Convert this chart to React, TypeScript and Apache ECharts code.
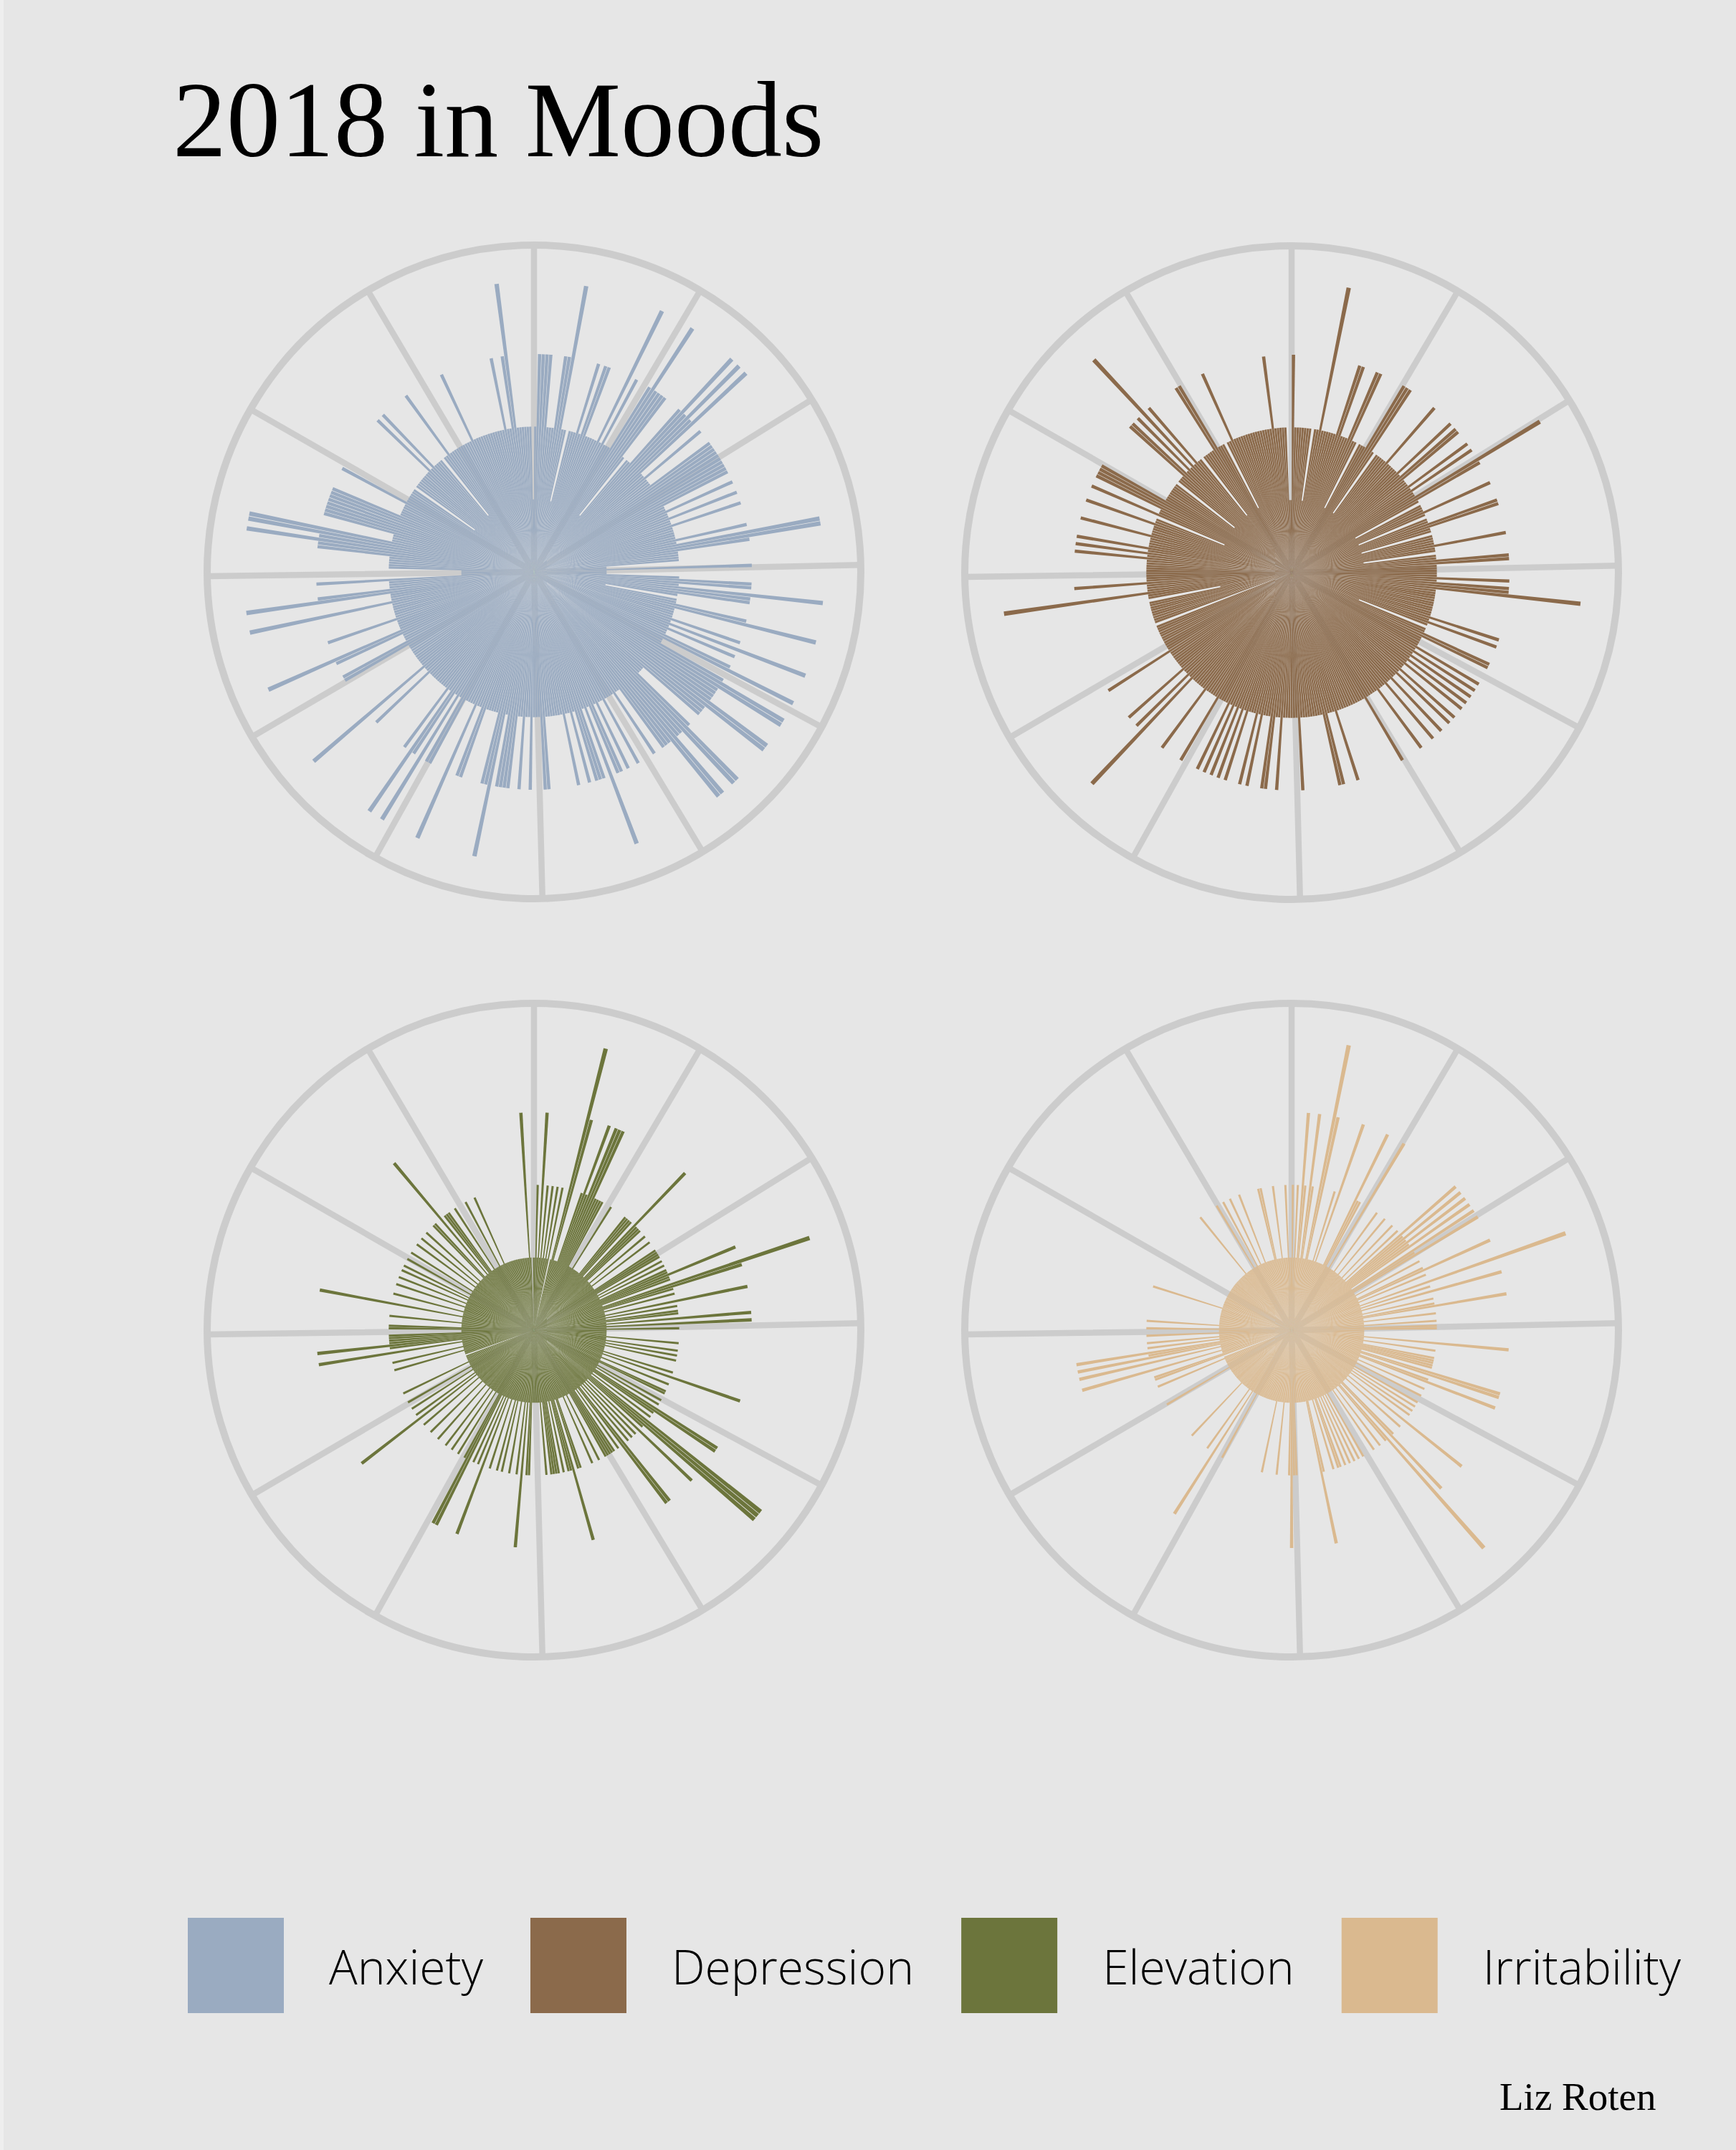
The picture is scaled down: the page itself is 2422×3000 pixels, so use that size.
import React, { useEffect, useRef } from "react";
import * as echarts from "echarts";

// ---- data (daily mood level 0-4, 2018, by month) ----
const anxietyByMonth = [
  [2,3,3,3,3,2,2,2,3,3,4,2,2,1,2,2,2,3,2,3,3,2,2,2,2,2,4,2,3,2,2],
  [2,3,4,3,3,3,3,2,1,2,2,3,4,3,4,3,4,2,2,3,2,2,2,3,3,3,3,3],
  [3,3,3,3,3,2,2,3,2,2,3,2,2,3,2,2,2,2,2,3,2,4,4,3,2,2,2,2,1,1,3],
  [1,1,1,2,3,3,2,4,3,3,2,1,2,2,3,4,2,2,2,2,3,2,4,2,3,2,2,3,4,2],
  [2,3,4,4,3,3,3,3,4,4,3,3,3,2,2,2,3,4,4,3,3,4,4,3,3,3,2,2,3,2,2],
  [2,2,3,2,2,3,2,3,3,2,4,2,3,3,3,2,3,2,2,3,2,2,2,2,2,2,2,3,3,2],
  [2,2,3,2,2,3,2,2,3,3,3,3,2,4,3,3,2,2,2,2,2,3,3,2,2,4,2,2,2,2,3],
  [3,2,4,2,3,4,2,3,2,2,2,2,2,2,2,2,2,3,2,2,4,2,2,2,2,2,2,2,2,2,2],
  [3,3,2,2,2,3,4,2,2,2,2,3,2,2,2,2,2,2,4,2,2,2,4,3,2,2,2,3,1,1],
  [1,1,2,2,2,2,2,3,3,4,3,4,4,2,2,2,3,3,3,3,3,3,3,3,2,2,2,2,2,3,2],
  [2,2,2,2,2,1,2,2,2,2,2,2,2,2,3,2,3,2,2,2,2,1,2,2,3,2,2,2,2,2],
  [2,2,2,2,2,3,2,2,2,2,2,2,2,2,2,2,2,2,2,3,2,2,3,4,2,2,2,2,2,2,1],
];
const depressionByMonth = [
  [3,2,2,2,2,2,2,2,1,2,2,4,2,2,2,2,2,2,3,3,2,2,2,3,3,2,2,1,2,2,2],
  [3,3,3,2,1,2,2,2,2,2,3,2,2,2,2,2,3,2,3,3,2,2,2,3,2,3,2,2],
  [4,3,2,1,2,2,2,3,2,1,2,2,3,3,2,2,1,2,2,2,2,3,2,2,1,2,2,3,3,2,2],
  [2,2,2,3,2,3,3,4,2,2,2,2,2,2,2,2,2,2,2,3,2,3,2,1,2,2,3,3,2,2],
  [2,2,3,2,3,2,3,2,3,2,3,2,2,3,2,3,2,2,3,2,2,3,2,2,2,3,2,2,2,2,2],
  [3,2,2,2,2,2,2,2,2,2,2,2,2,3,2,2,2,3,3,2,2,2,2,2,2,2,2,2,3,2],
  [2,2,2,2,2,3,2,2,3,3,2,2,2,3,2,3,2,2,2,3,2,3,2,3,2,3,2,3,2,2,2],
  [2,3,2,2,2,2,2,3,2,2,2,2,2,2,4,2,3,2,2,3,2,2,2,2,2,2,2,2,3,2,2],
  [2,2,2,2,2,2,2,2,2,0,2,2,2,2,2,2,2,2,2,1,2,2,4,2,2,2,3,2,2,2],
  [2,2,2,2,2,2,3,2,3,2,3,2,2,2,2,3,2,2,2,2,3,2,2,1,3,2,2,3,3,3,3],
  [2,2,2,2,2,2,2,2,1,2,2,2,3,3,2,3,2,4,2,3,2,2,1,2,2,2,2,2,3,3],
  [2,2,2,1,2,2,3,2,2,2,2,2,2,2,2,2,2,2,2,2,2,2,2,3,2,2,2,2,2,1,1],
];
const elevationByMonth = [
  [1,2,1,3,1,2,1,2,1,2,1,2,0,1,4,3,1,1,1,2,3,2,3,3,3,2,2,2,2,1,1],
  [1,2,1,1,1,1,1,1,2,2,2,2,1,3,2,2,2,1,1,2,1,1,2,1,1,1,2,2],
  [2,2,1,2,1,2,1,2,2,3,2,2,1,4,3,2,1,2,1,1,3,1,2,1,2,2,1,3,1,3,1],
  [2,1,1,1,1,1,2,1,1,2,1,2,1,2,1,1,1,1,2,1,3,1,1,2,1,1,2,2,1,1],
  [2,1,2,1,3,3,2,1,2,1,4,4,4,2,1,3,1,2,1,2,1,2,1,3,3,1,2,1,2,2,2],
  [2,2,1,1,2,1,1,2,1,1,1,1,2,2,1,3,2,2,1,2,1,2,2,2,2,1,2,1,1,1],
  [1,1,1,2,2,1,3,1,2,1,1,2,1,1,2,1,2,1,1,2,1,1,3,1,2,1,2,1,3,3,2],
  [1,1,2,1,1,2,1,1,2,1,1,1,2,1,1,1,2,1,1,1,2,1,1,3,1,2,1,1,2,1,1],
  [2,1,1,1,2,1,1,1,1,1,0,1,1,1,2,1,1,2,1,1,1,3,1,2,3,2,2,2,2,1],
  [1,2,2,1,1,1,2,1,1,1,1,3,1,1,1,2,1,1,1,2,1,1,2,1,1,2,1,2,1,1,2],
  [1,1,2,1,1,1,2,1,1,2,1,1,2,1,1,1,2,2,1,1,3,1,2,2,2,1,1,2,1,1],
  [1,1,2,1,1,1,2,1,1,1,1,1,1,1,1,1,1,1,1,1,1,1,1,1,1,1,1,3,1,0,1],
];
const irritabilityByMonth = [
  [2,1,2,1,3,2,1,3,2,1,1,4,3,1,1,1,1,2,1,3,1,1,1,1,1,1,3,2,2,1,1],
  [3,1,1,1,1,2,1,1,1,2,1,1,1,2,1,1,2,1,3,2,3,2,3,2,3,1,3,2],
  [3,1,1,2,1,1,2,3,1,2,1,1,4,1,2,1,3,1,1,2,1,2,3,1,1,2,1,1,2,1,2],
  [2,1,1,1,1,1,3,1,1,2,1,1,2,2,2,2,2,1,3,3,1,2,3,1,1,2,1,1,2,1],
  [1,2,1,2,1,2,1,2,1,1,3,1,1,2,1,1,1,2,3,1,4,2,1,1,2,1,1,2,1,1,1],
  [1,2,1,2,1,2,1,2,1,2,1,2,2,1,2,1,1,1,2,3,1,1,1,1,1,1,1,1,1,2],
  [2,3,2,1,1,1,1,2,1,1,1,1,1,2,1,1,1,1,1,1,1,1,1,1,1,1,1,1,1,1,2],
  [1,1,1,3,1,1,2,1,1,1,1,1,1,1,2,1,1,1,1,1,1,1,1,1,1,1,1,1,1,1,2],
  [1,1,1,1,1,1,1,2,1,0,2,2,1,1,3,1,1,3,1,3,2,3,1,2,1,2,1,1,2,1],
  [1,2,1,1,2,1,1,1,1,1,1,1,1,1,1,1,1,1,2,1,1,1,1,1,1,1,1,1,1,1,1],
  [1,1,1,1,1,1,1,1,1,1,1,1,1,1,1,1,1,1,1,1,1,2,1,1,1,1,1,1,1,2],
  [1,1,2,1,1,2,1,1,1,2,1,1,1,1,1,1,1,2,2,1,1,1,1,2,1,1,1,1,2,1,1],
];

const moodNames = ["Anxiety", "Depression", "Elevation", "Irritability"];
const moodColors = ["#9aabc1", "#8b6a4b", "#6c753c", "#dab98f"];
const moodData = [anxietyByMonth, depressionByMonth, elevationByMonth, irritabilityByMonth].map(
  (m) => m.flat()
);
const monthStarts = [0, 31, 59, 90, 120, 151, 181, 212, 243, 273, 304, 334];
const dayLabels: string[] = [];
{
  const monthLens = [31, 28, 31, 30, 31, 30, 31, 31, 30, 31, 30, 31];
  monthLens.forEach((len, mi) => {
    for (let d = 1; d <= len; d++) dayLabels.push(`2018-${String(mi + 1).padStart(2, "0")}-${String(d).padStart(2, "0")}`);
  });
}
const polarCenters = [
  [745, 798],
  [1802, 799],
  [745, 1856],
  [1802, 1856],
];

const W = 2422;
const H = 3000;

export default function App() {
  const ref = useRef<HTMLDivElement>(null);
  useEffect(() => {
    document.body.style.margin = "0";
    if (!ref.current) return;
    const chart = echarts.init(ref.current, null, { renderer: "svg", width: W, height: H });
    const startSet = new Set(monthStarts);
    const monthTick = (idx: number) => startSet.has(idx);
    const option: any = {
      animation: false,
      backgroundColor: "#e6e6e6",
      polar: polarCenters.map((c) => ({ center: c, radius: [0, 456] })),
      angleAxis: polarCenters.map((_, i) => ({
        polarIndex: i,
        type: "category",
        data: dayLabels,
        startAngle: 90,
        clockwise: true,
        boundaryGap: true,
        axisLine: { show: true, lineStyle: { color: "#cccccc", width: 10 } },
        axisTick: { show: false, interval: monthTick },
        axisLabel: { show: false, interval: monthTick },
        splitLine: {
          show: true,
          interval: monthTick,
          lineStyle: { color: "#cccccc", width: 8.5 },
        },
      })),
      radiusAxis: polarCenters.map((_, i) => ({
        polarIndex: i,
        type: "value",
        min: 0,
        max: 4.5,
        axisLine: { show: false },
        axisTick: { show: false },
        axisLabel: { show: false },
        splitLine: { show: false },
      })),
      legend: {
        data: moodNames,
        left: 262,
        top: 2676,
        padding: 0,
        orient: "horizontal",
        icon: "rect",
        itemWidth: 134,
        itemHeight: 133,
        itemGap: 66,
        selectedMode: false,
        textStyle: {
          fontFamily: "Open Sans",
          fontWeight: 300,
          fontSize: 66,
          color: "#000000",
          padding: [0, 0, 0, 58],
        },
      },
      series: moodNames.map((name, i) => ({
        name,
        type: "bar",
        coordinateSystem: "polar",
        polarIndex: i,
        data: moodData[i],
        barCategoryGap: "12%",
        itemStyle: { color: moodColors[i] },
        emphasis: { disabled: true },
        silent: true,
      })),
      graphic: [
        { type: "rect", shape: { x: 0, y: 0, width: 5, height: H }, style: { fill: "#eeeeee" }, silent: true },
        {
          type: "text",
          x: 241,
          y: 167,
          style: {
            text: "2018 in Moods",
            fontFamily: "Liberation Serif",
            fontSize: 150,
            fill: "#000000",
            align: "left",
            verticalAlign: "middle",
            textAlign: "left",
            textVerticalAlign: "middle",
          },
        },
        {
          type: "text",
          x: 2092,
          y: 2925,
          style: {
            text: "Liz Roten",
            fontFamily: "Liberation Serif",
            fontSize: 55,
            fill: "#000000",
            align: "left",
            verticalAlign: "middle",
            textAlign: "left",
            textVerticalAlign: "middle",
          },
        },
      ],
    };
    chart.setOption(option);
    return () => chart.dispose();
  }, []);
  return <div ref={ref} style={{ width: W, height: H }} />;
}
